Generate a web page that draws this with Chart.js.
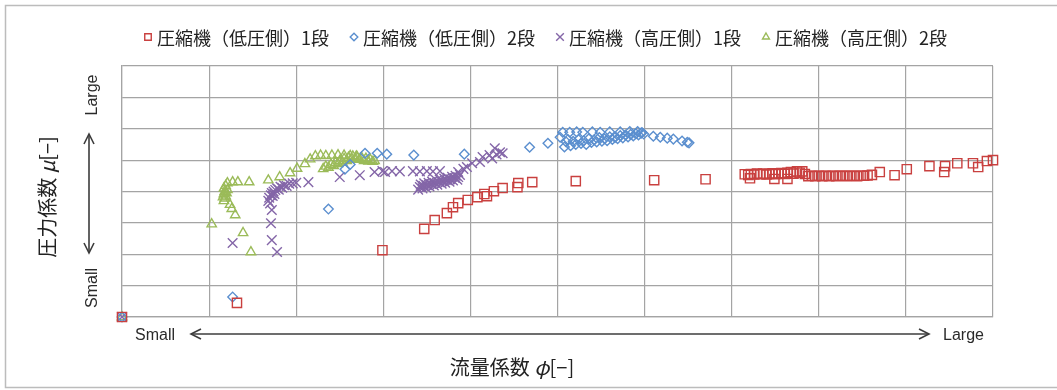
<!DOCTYPE html>
<html>
<head>
<meta charset="utf-8">
<script src="https://cdn.jsdelivr.net/npm/chart.js@4.4.0/dist/chart.umd.min.js"></script>
<style>
  html, body { margin: 0; padding: 0; background: #fff; }
  #wrap { width: 1057px; height: 390px; }
</style>
</head>
<body>
<div id="wrap"><canvas id="chart" width="1057" height="390"></canvas></div>
<script>
// 系列名
const seriesNames = ['圧縮機（低圧側）1段', '圧縮機（低圧側）2段', '圧縮機（高圧側）1段', '圧縮機（高圧側）2段'];
const xTitle = ['流量係数 ', 'φ', '[−]'];
const yTitle = ['圧力係数 ', 'μ', '[−]'];
const axisEnds = ['Small', 'Large'];

// 目盛 (無次元, ラベルなし)
const xRange = [0, 10];
const yRange = [0, 8];

// 低圧側 1段
const lowStage1 = [
  [0, 0], [1.32, 0.45], [2.99, 2.13], [3.47, 2.81], [3.59, 3.09], [3.73, 3.31], [3.80, 3.50], [3.86, 3.63],
  [3.97, 3.73], [4.08, 3.82], [4.16, 3.92], [4.19, 3.85], [4.27, 4.01], [4.37, 4.11], [4.54, 4.14], [4.55, 4.27],
  [4.71, 4.30], [5.21, 4.33], [6.11, 4.36], [6.70, 4.39],
  [7.15, 4.55], [7.19, 4.53], [7.22, 4.56], [7.26, 4.54], [7.29, 4.57], [7.33, 4.55], [7.36, 4.57], [7.40, 4.54],
  [7.43, 4.56], [7.47, 4.58], [7.50, 4.55], [7.54, 4.57], [7.57, 4.59], [7.61, 4.56], [7.64, 4.60], [7.68, 4.62],
  [7.71, 4.57], [7.75, 4.64], [7.78, 4.60], [7.81, 4.64], [7.84, 4.56], [7.21, 4.42], [7.49, 4.40], [7.64, 4.40],
  [7.88, 4.49], [7.92, 4.50], [7.96, 4.49], [8.00, 4.50], [8.04, 4.49], [8.08, 4.50], [8.12, 4.49], [8.16, 4.50],
  [8.20, 4.49], [8.24, 4.50], [8.28, 4.50], [8.32, 4.49], [8.36, 4.50], [8.40, 4.50], [8.44, 4.49], [8.48, 4.50],
  [8.52, 4.50], [8.56, 4.51], [8.61, 4.53],
  [8.70, 4.62], [8.87, 4.52], [9.01, 4.71], [9.27, 4.81], [9.44, 4.62], [9.45, 4.81], [9.59, 4.90], [9.77, 4.90],
  [9.83, 4.78], [9.93, 4.97], [10.0, 5.00]
];

// 低圧側 2段
const lowStage2 = [
  [0, 0], [1.27, 0.64], [2.37, 3.44], [2.56, 4.71], [2.62, 4.86], [2.79, 5.22], [2.93, 5.22], [3.04, 5.19],
  [3.35, 5.16], [3.93, 5.19], [4.68, 5.41], [4.89, 5.54], [5.03, 5.73],
  [5.06, 5.89], [5.14, 5.89], [5.22, 5.90], [5.29, 5.89], [5.40, 5.90], [5.49, 5.89], [5.60, 5.90], [5.72, 5.90],
  [5.83, 5.91], [5.92, 5.91], [5.97, 5.88],
  [5.08, 5.42], [5.10, 5.58], [5.12, 5.66], [5.15, 5.46], [5.18, 5.60], [5.21, 5.50], [5.24, 5.66], [5.27, 5.53],
  [5.30, 5.62], [5.33, 5.50], [5.36, 5.68], [5.39, 5.56], [5.42, 5.64], [5.45, 5.58], [5.48, 5.72], [5.51, 5.60],
  [5.54, 5.68], [5.57, 5.62], [5.60, 5.74], [5.63, 5.66], [5.66, 5.72], [5.69, 5.68], [5.72, 5.78], [5.75, 5.71],
  [5.78, 5.80], [5.81, 5.74], [5.84, 5.82], [5.87, 5.77], [5.90, 5.84], [5.93, 5.80], [5.96, 5.86], [5.99, 5.83],
  [6.10, 5.76], [6.18, 5.73], [6.26, 5.70], [6.33, 5.67], [6.43, 5.61], [6.49, 5.57], [6.51, 5.55]
];

// 高圧側 1段
const highStage1 = [
  [0, 0], [1.27, 2.36], [1.72, 3.41], [1.71, 2.99], [1.72, 2.45], [1.78, 2.07],
  [1.68, 3.70], [1.69, 3.80], [1.71, 3.88], [1.70, 3.62], [1.72, 3.95], [1.74, 4.00], [1.73, 3.86], [1.76, 4.05],
  [1.75, 3.92], [1.78, 4.10], [1.80, 4.06], [1.82, 4.15], [1.84, 4.12], [1.86, 4.20], [1.89, 4.18], [1.92, 4.25],
  [1.96, 4.26], [2.00, 4.28], [2.14, 4.30], [2.50, 4.46], [2.73, 4.52], [2.90, 4.62],
  [2.99, 4.65], [3.02, 4.62], [3.10, 4.65], [3.19, 4.64], [3.34, 4.65], [3.42, 4.64], [3.50, 4.65], [3.57, 4.64],
  [3.65, 4.65],
  [3.40, 4.06], [3.42, 4.14], [3.43, 4.22], [3.45, 4.10], [3.46, 4.18], [3.47, 4.26], [3.49, 4.12], [3.50, 4.20],
  [3.52, 4.28], [3.53, 4.16], [3.55, 4.24], [3.56, 4.32], [3.58, 4.19], [3.59, 4.27], [3.61, 4.35], [3.62, 4.22],
  [3.64, 4.30], [3.65, 4.38], [3.67, 4.25], [3.68, 4.33], [3.70, 4.41], [3.71, 4.28], [3.73, 4.36], [3.74, 4.44],
  [3.76, 4.31], [3.77, 4.39], [3.79, 4.47], [3.80, 4.35], [3.82, 4.43], [3.83, 4.50], [3.85, 4.38], [3.86, 4.46],
  [3.88, 4.53],
  [3.86, 4.62], [3.92, 4.72], [3.96, 4.78], [4.02, 4.90], [4.11, 4.94], [4.14, 5.10], [4.22, 5.16], [4.25, 5.05],
  [4.28, 5.38], [4.30, 5.18], [4.34, 5.25], [4.37, 5.22]
];

// 高圧側 2段
const highStage2 = [
  [0, 0], [1.03, 2.96], [1.39, 2.68], [1.48, 2.07],
  [1.17, 4.10], [1.18, 4.00], [1.17, 3.92], [1.19, 3.85], [1.18, 3.78], [1.17, 3.70], [1.19, 4.18], [1.20, 3.95],
  [1.16, 3.82], [1.21, 4.05], [1.24, 3.58], [1.26, 3.45], [1.30, 3.25],
  [1.21, 4.27], [1.27, 4.30], [1.33, 4.30], [1.46, 4.30],
  [1.68, 4.36], [1.81, 4.46], [1.93, 4.59], [2.01, 4.73], [2.10, 4.88], [2.16, 5.03],
  [2.22, 5.13], [2.28, 5.15], [2.34, 5.14], [2.41, 5.15], [2.48, 5.16], [2.55, 5.15], [2.62, 5.14], [2.69, 5.12],
  [2.31, 4.72], [2.34, 4.80], [2.37, 4.76], [2.40, 4.86], [2.43, 4.82], [2.45, 4.92], [2.48, 4.88], [2.50, 4.98],
  [2.53, 4.93], [2.55, 5.04], [2.58, 4.98], [2.60, 5.08], [2.63, 5.02], [2.65, 5.12], [2.68, 5.05], [2.70, 5.10],
  [2.73, 5.02], [2.75, 5.08], [2.78, 4.98], [2.80, 5.05], [2.83, 4.96], [2.85, 5.02], [2.88, 4.95], [2.90, 4.98]
];

const toPoints = arr => arr.map(p => ({ x: p[0], y: p[1] }));

const styles = [
  { color: '#c9403f', pointStyle: 'rect', radius: 6.5, legendRadius: 4.6 },
  { color: '#5b8fcf', pointStyle: 'rectRot', radius: 4.8, legendRadius: 3.8 },
  { color: '#8466a8', pointStyle: 'crossRot', radius: 6.8, legendRadius: 5.4 },
  { color: '#9bbb59', pointStyle: 'triangle', radius: 5.4, legendRadius: 4.0 }
];
const seriesData = [lowStage1, lowStage2, highStage1, highStage2];

const cjk = "'Noto Sans CJK JP', sans-serif";
const latin = "'Liberation Sans', Arial, sans-serif";

// 斜体記号を含むタイトルを中央寄せで描く
function drawTitle(ctx, parts, cx, cy) {
  const fonts = parts.map((t, i) => (i === 1 ? 'italic ' : '') + '20px ' + cjk);
  const widths = parts.map((t, i) => { ctx.font = fonts[i]; return ctx.measureText(t).width; });
  let x = cx - widths.reduce((a, b) => a + b, 0) / 2;
  parts.forEach((t, i) => {
    ctx.font = fonts[i];
    ctx.fillText(t, x, cy);
    x += widths[i];
  });
}

function arrowHead(ctx, x, y, dx, dy) {
  // dx,dy: 矢印の向き
  ctx.beginPath();
  ctx.moveTo(x - dx * 10 - dy * 5, y - dy * 10 - dx * 5);
  ctx.lineTo(x, y);
  ctx.lineTo(x - dx * 10 + dy * 5, y - dy * 10 + dx * 5);
  ctx.stroke();
}

const decorations = {
  id: 'decorations',
  beforeDraw(chart) {
    const ctx = chart.ctx;
    ctx.save();
    ctx.fillStyle = '#fff';
    ctx.fillRect(0, 0, chart.width, chart.height);
    // 外枠
    ctx.strokeStyle = '#bcbcbc';
    ctx.lineWidth = 1.5;
    ctx.beginPath();
    ctx.moveTo(chart.width, 5.5);
    ctx.lineTo(5.5, 5.5);
    ctx.lineTo(5.5, 387.5);
    ctx.lineTo(chart.width, 387.5);
    ctx.stroke();
    ctx.restore();
  },
  afterDraw(chart) {
    const ctx = chart.ctx;
    const area = chart.chartArea;
    ctx.save();

    // 凡例
    ctx.textBaseline = 'middle';
    ctx.textAlign = 'left';
    chart.data.datasets.forEach((ds, i) => {
      const cx = 148 + i * 206, cy = 37;
      ctx.strokeStyle = ds.borderColor;
      ctx.fillStyle = '#fff';
      ctx.lineWidth = 1.4;
      Chart.helpers.drawPoint(ctx, { pointStyle: ds.pointStyle, radius: styles[i].legendRadius, rotation: 0, borderWidth: 1.4 }, cx, cy);
      ctx.fillStyle = '#222';
      ctx.font = '18px ' + cjk;
      ctx.fillText(ds.label, cx + 9, cy + 1);
    });

    // 軸の矢印
    ctx.strokeStyle = '#3c3c3c';
    ctx.lineWidth = 1.6;
    const ay = area.bottom + 17;
    const x0 = area.left + 69, x1 = area.right - 64;
    ctx.beginPath(); ctx.moveTo(x0, ay); ctx.lineTo(x1, ay); ctx.stroke();
    arrowHead(ctx, x0, ay, -1, 0);
    arrowHead(ctx, x1, ay, 1, 0);

    const ax = area.left - 33;
    const y0 = area.top + 68, y1 = area.bottom - 64;
    ctx.beginPath(); ctx.moveTo(ax, y0); ctx.lineTo(ax, y1); ctx.stroke();
    arrowHead(ctx, ax, y0, 0, -1);
    arrowHead(ctx, ax, y1, 0, 1);

    ctx.fillStyle = '#2a2a2a';
    ctx.font = '16px ' + latin;
    ctx.textAlign = 'left';
    ctx.fillText(axisEnds[0], area.left + 13, ay + 2);
    ctx.fillText(axisEnds[1], area.right - 50, ay + 2);

    ctx.save();
    ctx.translate(ax + 4, 0);
    ctx.rotate(-Math.PI / 2);
    ctx.textAlign = 'center';
    ctx.fillText(axisEnds[1], -(area.top + 29), 0);
    ctx.fillText(axisEnds[0], -(area.bottom - 29), 0);
    ctx.restore();

    // 軸タイトル
    ctx.textAlign = 'left';
    ctx.fillStyle = '#222';
    drawTitle(ctx, xTitle, 512, 367);
    ctx.save();
    ctx.translate(47, 197);
    ctx.rotate(-Math.PI / 2);
    drawTitle(ctx, yTitle, 0, 0);
    ctx.restore();

    ctx.restore();
  }
};

const gridColor = '#a4a4a4';

new Chart(document.getElementById('chart'), {
  type: 'scatter',
  data: {
    datasets: seriesData.map((d, i) => ({
      label: seriesNames[i],
      data: toPoints(d),
      pointStyle: styles[i].pointStyle,
      pointRadius: styles[i].radius,
      pointHoverRadius: styles[i].radius,
      borderColor: styles[i].color,
      backgroundColor: 'rgba(255,255,255,0)',
      pointBorderWidth: 1.4,
      clip: false
    }))
  },
  options: {
    responsive: false,
    animation: false,
    events: [],
    layout: { padding: { top: 66, left: 122, right: 64, bottom: 73 } },
    plugins: {
      legend: { display: false },
      tooltip: { enabled: false }
    },
    scales: {
      x: {
        type: 'linear', min: xRange[0], max: xRange[1],
        ticks: { display: false, stepSize: 1 },
        grid: { color: gridColor, lineWidth: 1.2, drawTicks: false },
        border: { color: gridColor, width: 1.2 }
      },
      y: {
        type: 'linear', min: yRange[0], max: yRange[1],
        ticks: { display: false, stepSize: 1 },
        grid: { color: gridColor, lineWidth: 1.2, drawTicks: false },
        border: { color: gridColor, width: 1.2 }
      }
    }
  },
  plugins: [decorations]
});
</script>
</body>
</html>
